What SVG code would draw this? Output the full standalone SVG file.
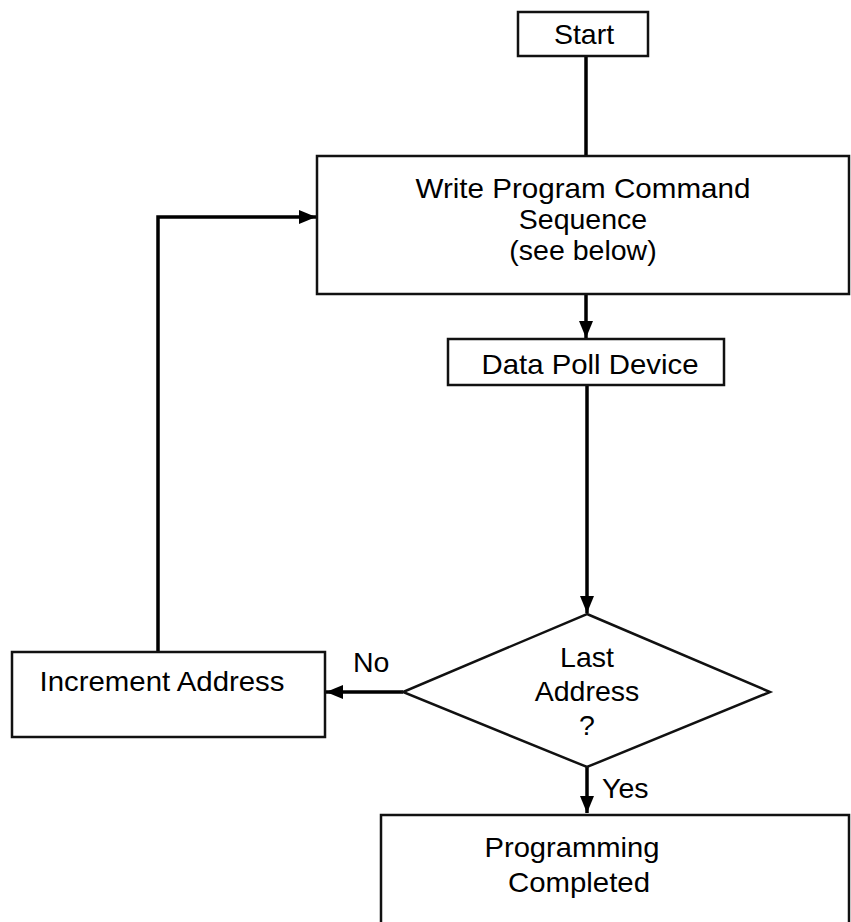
<svg xmlns="http://www.w3.org/2000/svg" width="851" height="922" viewBox="0 0 851 922">
<style>
.box{fill:#fff;stroke:#111;stroke-width:2.5}
.t{font-family:"Liberation Sans",Arial,sans-serif;font-size:28.5px;fill:#000}
.c{text-anchor:middle}
.ln{fill:none;stroke:#000;stroke-width:3.5}
</style>
<defs>
<marker id="ah" markerUnits="userSpaceOnUse" markerWidth="18" markerHeight="15" refX="17" refY="7" orient="auto">
<path d="M0,0 L17,7 L0,14 z" fill="#000"/>
</marker>
</defs>
<rect width="851" height="922" fill="#fff"/>
<g id="connectors">
<line class="ln" x1="586" y1="56" x2="586" y2="157"/>
<line class="ln" x1="586" y1="294" x2="586" y2="338" marker-end="url(#ah)"/>
<line class="ln" x1="587" y1="385" x2="587" y2="613" marker-end="url(#ah)"/>
<line class="ln" x1="403" y1="692" x2="326" y2="692" marker-end="url(#ah)"/>
<polyline class="ln" points="158,652 158,217 316,217" marker-end="url(#ah)"/>
<line class="ln" x1="587" y1="767" x2="587" y2="813" marker-end="url(#ah)"/>
<text class="t" x="353" y="672">No</text>
<text class="t" x="602" y="798">Yes</text>
</g>
<g id="start">
<rect class="box" x="518" y="12" width="130" height="44"/>
<text class="t c" x="584" y="44">Start</text>
</g>
<g id="write">
<rect class="box" x="317" y="156" width="532" height="138"/>
<text class="t c" x="583" y="198" textLength="335" lengthAdjust="spacingAndGlyphs">Write Program Command</text>
<text class="t c" x="583" y="229">Sequence</text>
<text class="t c" x="583" y="260">(see below)</text>
</g>
<g id="poll">
<rect class="box" x="448" y="339" width="276" height="46"/>
<text class="t c" x="590" y="374" textLength="217" lengthAdjust="spacingAndGlyphs">Data Poll Device</text>
</g>
<g id="decision">
<polygon class="box" points="587,614 770,692 587,767 403,692"/>
<text class="t c" x="587" y="667">Last</text>
<text class="t c" x="587" y="701">Address</text>
<text class="t c" x="587" y="735">?</text>
</g>
<g id="increment">
<rect class="box" x="12" y="652" width="313" height="85"/>
<text class="t c" x="162" y="691" textLength="245" lengthAdjust="spacingAndGlyphs">Increment Address</text>
</g>
<g id="done">
<rect class="box" x="381" y="815" width="468" height="110"/>
<text class="t c" x="572" y="857" textLength="175" lengthAdjust="spacingAndGlyphs">Programming</text>
<text class="t c" x="579" y="892" textLength="142" lengthAdjust="spacingAndGlyphs">Completed</text>
</g>
</svg>
